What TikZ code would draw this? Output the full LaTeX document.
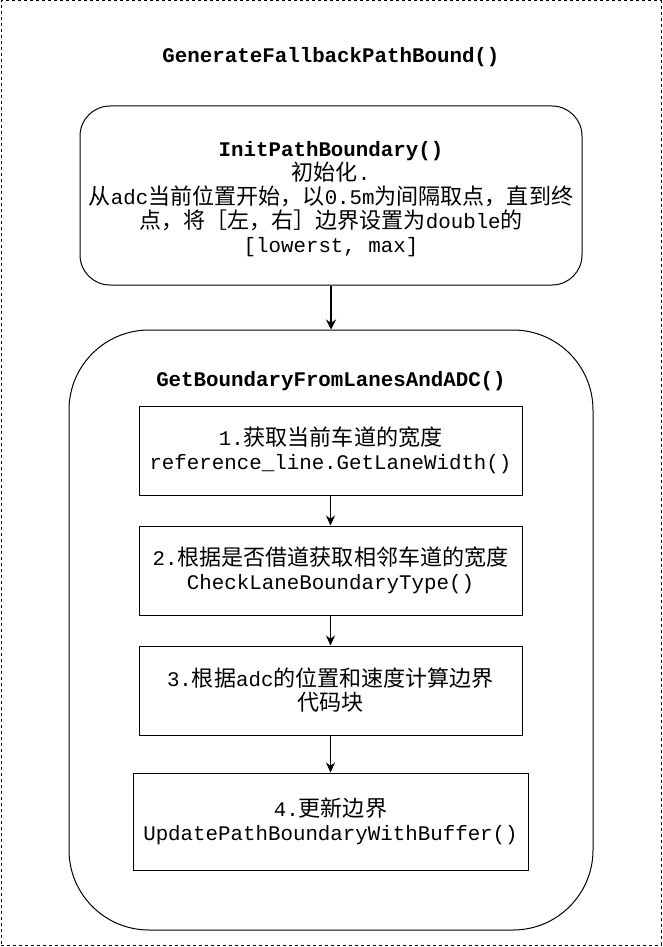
\documentclass[tikz,border=0pt]{standalone}
\usepackage{fontspec}
\setmainfont{Liberation Mono}
\newfontfamily\cjkfont[Scale=1.06]{Noto Sans CJK SC}
\newcommand\zh[1]{{\cjkfont #1}}
\newcommand\dfont{\fontsize{20.8}{24}\selectfont\lineskiplimit -30pt\relax}
\usetikzlibrary{arrows.meta}
\begin{document}
\begin{tikzpicture}[x=1pt,y=-1pt,
  txt/.style={font=\dfont, align=center},
  stepbox/.style={draw, line width=1pt, fill=white, inner sep=0pt, txt},
  arr/.style={-{Stealth[length=10pt,width=9pt]}, line width=1pt},
  thickarr/.style={-{Stealth[length=10pt,width=10pt]}, line width=2pt}]
\useasboundingbox (0,0) rectangle (662,947);
\node[draw, dashed, dash pattern=on 3pt off 3pt, line width=1pt, minimum width=660pt, minimum height=944pt, inner sep=0pt] (frame) at (331,473) {};
\node[txt] (title) at (331,57) {\textbf{GenerateFallbackPathBound()}};
\node[stepbox, rounded corners=30pt, minimum width=502pt, minimum height=179pt] (init) at (331,195.5) {};
\node[txt, inner sep=0pt] (inittxt) at (331,199)
 {\textbf{InitPathBoundary()}\\
  \zh{初始化}.\\
  \zh{从}adc\zh{当前位置开始，以}0.5m\zh{为间隔取点，直到终}\\
  \zh{点，将［左，右］边界设置为}double\zh{的}\\
  {[lowerst, max]}};
\node[draw, line width=1pt, rounded corners=80pt, minimum width=524pt, minimum height=600pt, inner sep=0pt] (cont) at (331,630) {};
\node[txt] (ctitle) at (331,381) {\textbf{GetBoundaryFromLanesAndADC()}};
\node[stepbox, minimum width=383pt, minimum height=89pt] (a) at (330.5,450.5)
 {1.\zh{获取当前车道的宽度}\\ reference\_line.GetLaneWidth()};
\node[stepbox, minimum width=383pt, minimum height=89pt] (b) at (330.5,570.5)
 {2.\zh{根据是否借道获取相邻车道的宽度}\\ CheckLaneBoundaryType()};
\node[stepbox, minimum width=383pt, minimum height=89pt] (c) at (330.5,690.5)
 {3.\zh{根据}adc\zh{的位置和速度计算边界}\\ \zh{代码块}};
\node[stepbox, minimum width=395pt, minimum height=97pt] (d) at (330.5,821.5)
 {4.\zh{更新边界}\\ UpdatePathBoundaryWithBuffer()};
\draw[thickarr] (init.south) -- (cont.north);
\draw[arr] (a) -- (b);
\draw[arr] (b) -- (c);
\draw[arr] (c) -- (d);
\end{tikzpicture}
\end{document}
